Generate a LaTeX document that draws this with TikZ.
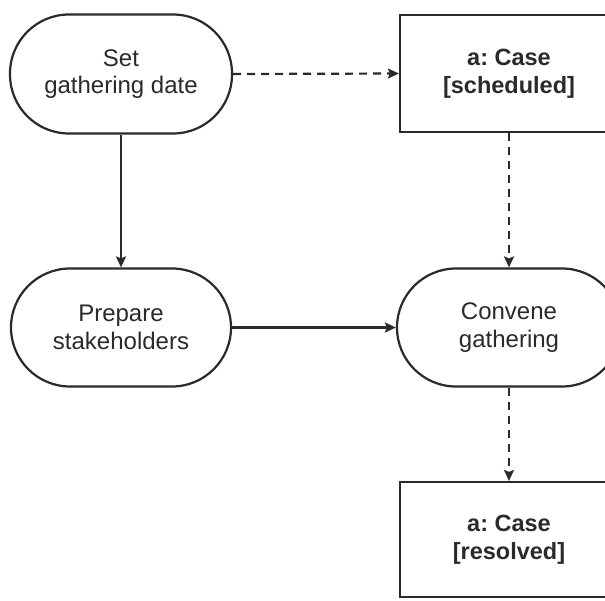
\documentclass[tikz,border=0pt]{standalone}
\usepackage{fontspec}
\setmainfont{Liberation Sans}
\usetikzlibrary{arrows.meta}
\definecolor{ink}{HTML}{2A2A2A}
\frenchspacing
\tikzset{
  base/.style={draw=ink, line width=2.2pt, fill=white, align=center,
    font=\fontsize{24}{27.5}\selectfont, text=ink, inner sep=0pt},
  action/.style={base, rounded corners=59pt},
  object/.style={base, font=\fontsize{23.5}{27.5}\selectfont\bfseries},
  flow/.style={draw=ink, line width=2.2pt,
    -{Stealth[length=11pt,width=10pt,inset=2pt]}},
  objflow/.style={flow, dash pattern=on 8pt off 6pt}
}
\begin{document}
\begin{tikzpicture}[x=1pt,y=-1pt]
  \fill[white] (0,0) rectangle (605,600);
  \clip (0,0) rectangle (605,600);
  \node[action, minimum width=222pt, minimum height=119pt] (set) at (121,74) {Set\\gathering date};
  \node[object, minimum width=218pt, minimum height=117pt] (sched) at (509,73.5) {a: Case\\{}[scheduled]};
  \node[action, minimum width=220pt, minimum height=118pt] (prep) at (121,327.5) {Prepare\\stakeholders};
  \node[action, minimum width=224pt, minimum height=118pt] (conv) at (509,327.5) {Convene\\gathering};
  \node[object, minimum width=218pt, minimum height=115pt] (res) at (509,539.5) {a: Case\\{}[resolved]};
  \draw[flow] (set.south) -- (prep.north);
  \draw[objflow] (set.east) -- (sched.west);
  \draw[flow] (prep.east) -- (conv.west);
  \draw[objflow] (sched.south) -- (conv.north);
  \draw[objflow] (conv.south) -- (res.north);
\end{tikzpicture}
\end{document}
